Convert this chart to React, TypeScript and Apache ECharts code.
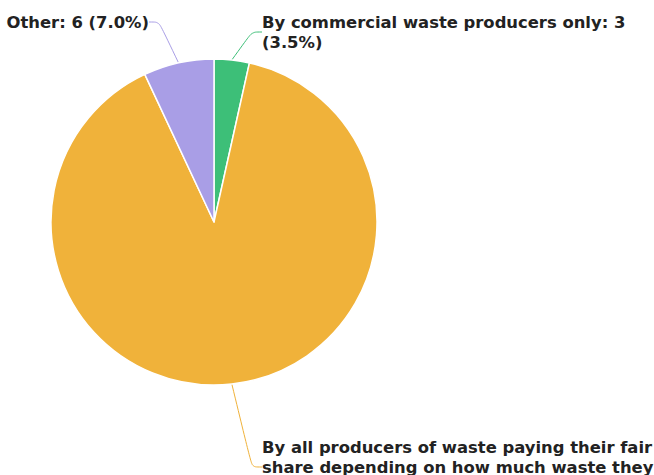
import React, { useEffect, useRef } from "react";
import * as echarts from "echarts";

const categories = [
  "By commercial waste producers only",
  "By all producers of waste paying their fair share depending on how much waste they produce",
  "Other",
];
const labelText = [
  "By commercial waste producers only: 3\n(3.5%)",
  "By all producers of waste paying their fair\nshare depending on how much waste they\nproduce: 77 (89.5%)",
  "Other: 6 (7.0%)",
];
const values = [3, 77, 6];
const colors = ["#3dbf78", "#f0b23a", "#a99ee6"];

export default function App() {
  const ref = useRef<HTMLDivElement>(null);
  useEffect(() => {
    const chart = echarts.init(ref.current!, null, { renderer: "svg" });
    chart.setOption({
      animation: false,
      backgroundColor: "#ffffff",
      series: [
        {
          type: "pie",
          center: [214, 222],
          radius: 163,
          startAngle: 90,
          clockwise: true,
          avoidLabelOverlap: false,
          itemStyle: { borderColor: "#ffffff", borderWidth: 1.5 },
          data: categories.map((c, i) => ({
            name: c,
            value: values[i],
            itemStyle: { color: colors[i] },
            labelLine: { lineStyle: { color: colors[i] } },
          })),
          label: {
            show: true,
            formatter: (p: any) => labelText[p.dataIndex],
            fontFamily: "DejaVu Sans",
            fontWeight: "bold",
            fontSize: 16.4,
            lineHeight: 20,
            color: "#222222",
          },
          labelLine: { show: true, smooth: true, length: 25, length2: 10, lineStyle: { width: 1 } },
          labelLayout: (p: any) => {
            if (p.dataIndex === 0) return { x: 262, y: 12, align: "left", verticalAlign: "top" };
            if (p.dataIndex === 1) return { x: 262, y: 437, align: "left", verticalAlign: "top" };
            return { x: 149, y: 12, align: "right", verticalAlign: "top" };
          },
        },
      ],
    });
    return () => chart.dispose();
  }, []);
  return (
    <div
      ref={ref}
      style={{ position: "fixed", left: 0, top: 0, width: 654, height: 475 }}
    />
  );
}
